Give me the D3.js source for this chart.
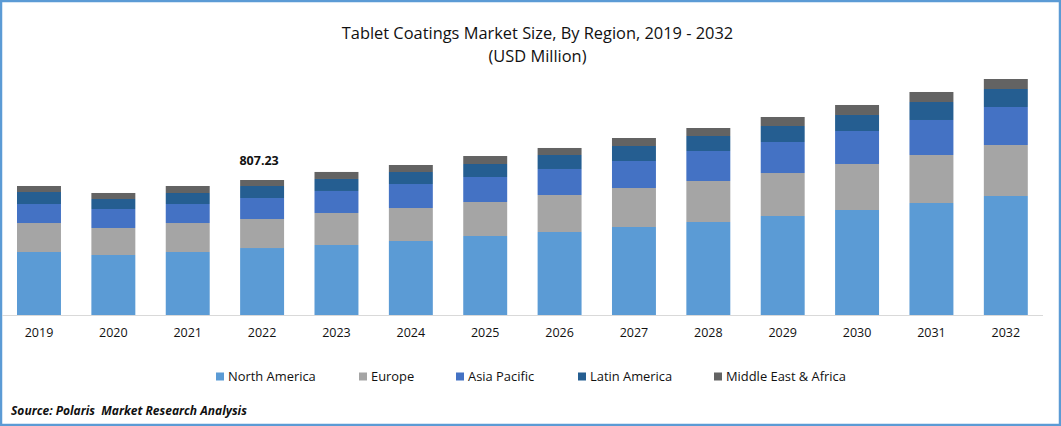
<!DOCTYPE html>
<html>
<head>
<meta charset="utf-8">
<script src="https://d3js.org/d3.v7.min.js"></script>
<style>
  html, body { margin: 0; padding: 0; background: #fff; overflow: hidden; }
  svg { display: block; }
  text { font-family: "Open Sans", sans-serif; fill: #111; }
</style>
</head>
<body>
<svg width="1061" height="426"></svg>
<script>
const years = ['2019', '2020', '2021', '2022', '2023', '2024', '2025', '2026', '2027', '2028', '2029', '2030', '2031', '2032'];
const regions = ['North America', 'Europe', 'Asia Pacific', 'Latin America', 'Middle East & Africa'];
const colors = ['#5b9bd5', '#a5a5a5', '#4472c4', '#255e91', '#636363'];

// USD million
const northAmerica = [376.7, 358.8, 376.7, 400.5, 418.6, 442.5, 472.4, 496.3, 526.2, 556.1, 592.0, 627.9, 669.8, 711.6];
const europe = [173.4, 161.5, 173.4, 173.4, 191.4, 197.3, 203.3, 221.3, 233.2, 245.2, 257.1, 275.1, 287.0, 305.0];
const asiaPacific = [113.6, 113.6, 113.6, 125.6, 131.6, 143.5, 149.5, 155.5, 161.5, 179.4, 185.4, 197.3, 209.3, 227.2];
const latinAmerica = [71.8, 59.8, 65.8, 71.8, 71.8, 71.8, 77.7, 83.7, 89.7, 89.7, 95.7, 95.7, 107.6, 107.6];
const middleEast = [35.9, 35.9, 41.9, 35.9, 41.9, 41.9, 47.8, 41.9, 47.8, 47.8, 53.8, 59.8, 59.8, 59.8];
const labelYear = '2022';
const labelText = '807.23';

const svg = d3.select('svg');
const width = 1061;
const height = 426;
const series = [northAmerica, europe, asiaPacific, latinAmerica, middleEast];

// one row per year, for d3.stack
const rows = years.map((year, i) => {
    const row = { year };
    regions.forEach((r, j) => { row[r] = series[j][i]; });
    return row;
});
const stacked = d3.stack().keys(regions)(rows);

const xScale = d3.scaleBand()
    .domain(years)
    .range([1.8, 1043])
    .paddingInner(0.409)
    .paddingOuter(0.2045);

const yScale = d3.scaleLinear()
    .domain([0, d3.max(rows, d => d3.sum(regions, r => d[r]))])
    .range([315, 79]);

// Outer frame
svg.append('rect')
    .attr('x', 1).attr('y', 1)
    .attr('width', width - 2).attr('height', height - 2)
    .attr('fill', '#fff')
    .attr('stroke', '#5b9bd5')
    .attr('stroke-width', 2.5);

// Bars
svg.append('g').selectAll('g')
    .data(stacked)
    .join('g')
    .attr('fill', (d, i) => colors[i])
    .selectAll('rect')
    .data(d => d)
    .join('rect')
    .attr('x', d => xScale(d.data.year))
    .attr('y', d => yScale(d[1]))
    .attr('width', xScale.bandwidth())
    .attr('height', d => yScale(d[0]) - yScale(d[1]));

// X axis
const xAxis = d3.axisBottom(xScale).tickSize(0).tickPadding(13);
const axisG = svg.append('g')
    .attr('transform', 'translate(0,315)')
    .call(xAxis);
axisG.select('.domain').remove();
axisG.selectAll('text')
    .attr('font-size', 12.5)
    .style('font-family', '"Open Sans", sans-serif')
    .style('fill', '#111');
svg.append('line')
    .attr('x1', 2).attr('x2', 1043)
    .attr('y1', 315.5).attr('y2', 315.5)
    .attr('stroke', '#d9d9d9')
    .attr('stroke-width', 1);

// Title
svg.append('text')
    .attr('x', 537.5).attr('y', 39)
    .attr('text-anchor', 'middle')
    .attr('font-size', 16.4)
    .text('Tablet Coatings Market Size, By Region, 2019 - 2032');
svg.append('text')
    .attr('x', 537.5).attr('y', 62)
    .attr('text-anchor', 'middle')
    .attr('font-size', 16.4)
    .text('(USD Million)');

// Data label on 2022
svg.append('text')
    .attr('x', xScale(labelYear) + xScale.bandwidth() / 2 - 3)
    .attr('y', 165)
    .attr('text-anchor', 'middle')
    .attr('font-size', 12.5)
    .attr('font-weight', 'bold')
    .text(labelText);

// Legend
const legendX = [216, 359, 456, 578, 714];
const legend = svg.append('g').selectAll('g')
    .data(regions)
    .join('g')
    .attr('transform', (d, i) => `translate(${legendX[i]},372.5)`);
legend.append('rect')
    .attr('width', 8).attr('height', 8)
    .attr('fill', (d, i) => colors[i]);
legend.append('text')
    .attr('x', 12).attr('y', 8.5)
    .attr('font-size', 12.9)
    .text(d => d);

// Source
svg.append('text')
    .attr('x', 11).attr('y', 415)
    .attr('font-size', 12)
    .attr('font-weight', 'bold')
    .attr('font-style', 'italic')
    .style('white-space', 'pre')
    .text('Source: Polaris  Market Research Analysis');
</script>
</body>
</html>
